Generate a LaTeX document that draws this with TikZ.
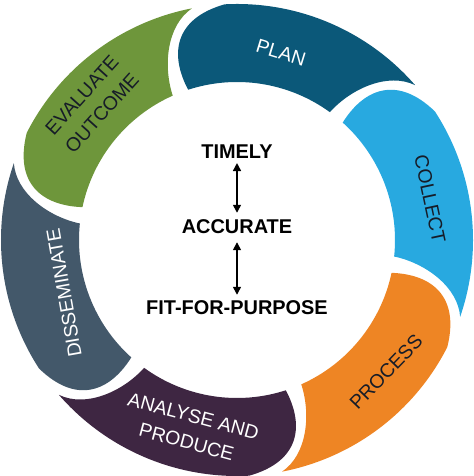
\documentclass[tikz,border=0pt]{standalone}
\usepackage{fontspec}
\setmainfont{Liberation Sans}
\usepackage{xcolor}
\usetikzlibrary{arrows.meta,positioning}

\definecolor{planblue}{RGB}{11,88,121}
\definecolor{collectblue}{RGB}{40,169,224}
\definecolor{processorange}{RGB}{238,133,36}
\definecolor{analysepurple}{RGB}{62,38,66}
\definecolor{dissemslate}{RGB}{67,88,106}
\definecolor{evalgreen}{RGB}{110,150,59}
\definecolor{labeldark}{RGB}{22,28,40}

\begin{document}
\begin{tikzpicture}[x=1bp, y=1bp,
  steplabel/.style={font=\fontsize{19.5}{27}\selectfont, align=center, inner sep=0pt},
  goal/.style={font=\fontsize{20}{24}\selectfont\bfseries, inner sep=2pt},
  link/.style={{Triangle[width=8pt,length=8pt]}-{Triangle[width=8pt,length=8pt]}, line width=1.5pt}
]

\useasboundingbox (-237,-236) rectangle (237,240);

% Six segments of the cycle, clockwise from PLAN
\def\ri{158}
\def\ro{236}
\foreach \b/\col in {105/planblue, 45/collectblue, -15/processorange,
                     -75/analysepurple, -135/dissemslate, 165/evalgreen} {
  \fill[\col] ({\b+3}:\ri) .. controls ({\b+5}:197) and ({\b+1}:230) .. ({\b-12}:\ro)
    arc[start angle=\b-12, end angle=\b-64, radius=\ro]
    .. controls ({\b-57}:226) and ({\b-52}:190) .. ({\b-51}:\ri)
    arc[start angle=\b-51, end angle=\b+3, radius=\ri] -- cycle;
}

% Step labels
\node[steplabel, text=white, rotate=-17] (plan) at (44,187) {PLAN};
\node[steplabel, text=labeldark, rotate=-78] (collect) at (193,41) {COLLECT};
\node[steplabel, text=labeldark, rotate=46] (process) at (149,-132) {PROCESS};
\node[steplabel, text=white, rotate=-15] (analyse) at (-47,-189) {ANALYSE AND\\PRODUCE};
\node[steplabel, text=white, rotate=100] (dissem) at (-173,-53) {DISSEMINATE};
\node[steplabel, text=labeldark, rotate=48] (evaluate) at (-145,136) {EVALUATE\\OUTCOME};

% Centre
\node[goal] (timely) at (0,88) {TIMELY};
\node[goal] (accurate) at (0,13) {ACCURATE};
\node[goal] (fit) at (0,-68) {FIT-FOR-PURPOSE};
\draw[link, shorten <=2pt, shorten >=5pt] (timely) -- (accurate);
\draw[link, shorten <=6pt, shorten >=4pt] (accurate) -- (fit);

\end{tikzpicture}
\end{document}
